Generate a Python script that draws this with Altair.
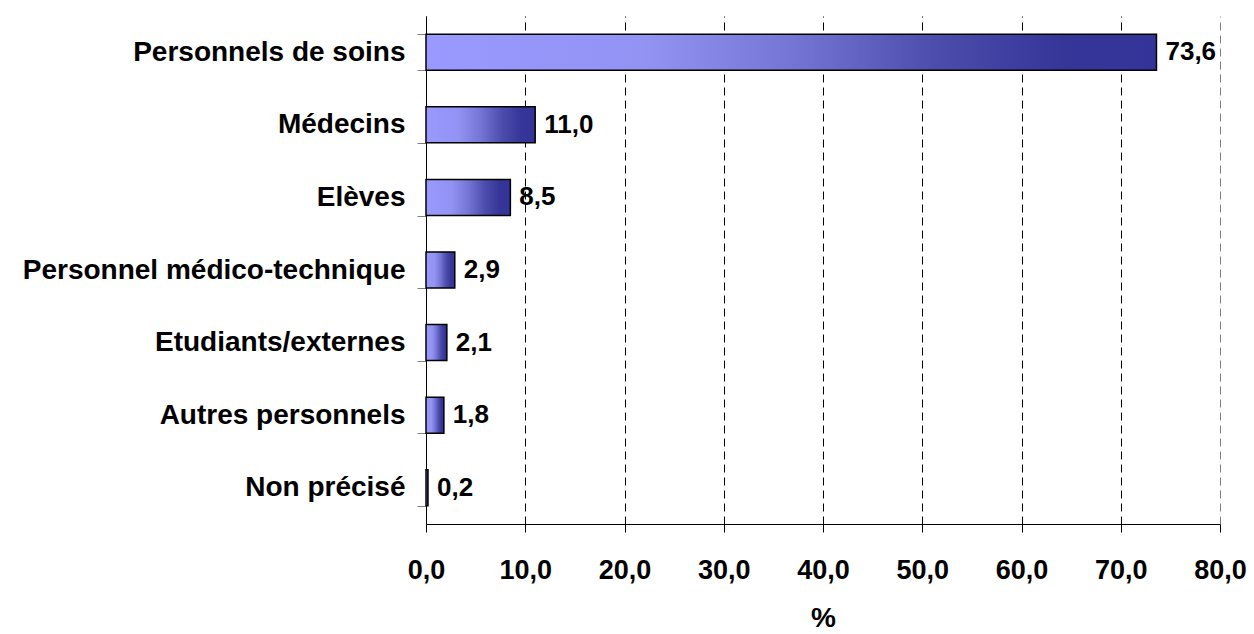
import altair as alt
import pandas as pd

# Share of staff categories (%)
categories = [
    "Personnels de soins",
    "Médecins",
    "Elèves",
    "Personnel médico-technique",
    "Etudiants/externes",
    "Autres personnels",
    "Non précisé",
]
values = [73.6, 11.0, 8.5, 2.9, 2.1, 1.8, 0.2]
x_ticks = [0, 10, 20, 30, 40, 50, 60, 70, 80]

df = pd.DataFrame({"categorie": categories, "pct": values})
df["label"] = [f"{v:.1f}".replace(".", ",") for v in values]

FONT = "Liberation Sans"

gradient = alt.LinearGradient(
    gradient="linear",
    x1=0, x2=1, y1=0, y2=0,
    stops=[
        alt.GradientStop(color="#9999FF", offset=0.0),
        alt.GradientStop(color="#9393F4", offset=0.3),
        alt.GradientStop(color="#7575D5", offset=0.5),
        alt.GradientStop(color="#4C4CAC", offset=0.7),
        alt.GradientStop(color="#363699", offset=0.87),
        alt.GradientStop(color="#333399", offset=1.0),
    ],
)

y_enc = alt.Y(
    "categorie:N",
    sort=categories,
    scale=alt.Scale(paddingInner=0.5, paddingOuter=0.25),
    axis=alt.Axis(
        title=None,
        labelFont=FONT,
        labelFontSize=28,
        labelFontWeight="bold",
        labelColor="black",
        labelPadding=12,
        labelLimit=0,
        tickSize=9,
        tickColor="#808080",
        tickBand="extent",
        domainColor="black",
        grid=False,
    ),
)

x_enc = alt.X(
    "pct:Q",
    scale=alt.Scale(domain=[0, 80], nice=False),
    axis=alt.Axis(
        values=x_ticks,
        title="%",
        titleFont=FONT,
        titleFontSize=28,
        titleFontWeight="bold",
        titleColor="black",
        titlePadding=21,
        labelFont=FONT,
        labelFontSize=27,
        labelFontWeight="bold",
        labelColor="black",
        labelPadding=25,
        labelFlush=False,
        labelOverlap=False,
        labelExpr="replace(format(datum.value, '.1f'), '.', ',')",
        tickSize=8,
        tickColor="black",
        domainColor="black",
        grid=True,
        gridColor=alt.condition("datum.value == 80", alt.value("#808080"), alt.value("black")),
        gridDash=[8, 5],
        gridWidth=1,
    ),
)

bars = alt.Chart(df).mark_bar(
    fill=gradient, stroke="black", strokeWidth=1.5, size=36
).encode(x=x_enc, y=y_enc)

labels = alt.Chart(df).mark_text(
    align="left", baseline="middle", dx=9,
    font=FONT, fontSize=26, fontWeight="bold", color="black",
).encode(
    x=alt.X("pct:Q"),
    y=alt.Y("categorie:N", sort=categories),
    text="label:N",
)

chart = (
    alt.layer(bars, labels)
    .properties(
        width=794,
        height=508,
        autosize=alt.AutoSizeParams(type="none"),
        padding={"left": 426, "top": 16, "right": 34, "bottom": 110},
        background="white",
    )
    .configure_view(strokeWidth=0)
)

chart.save("out.html", embed_options={"renderer": "svg", "actions": False})
